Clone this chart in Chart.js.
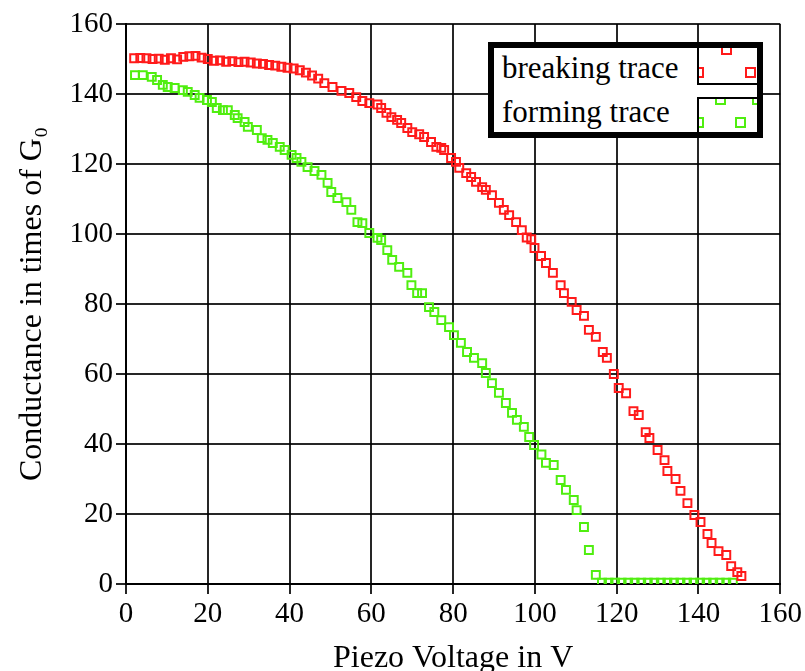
<!DOCTYPE html>
<html>
<head>
<meta charset="utf-8">
<script src="https://cdn.jsdelivr.net/npm/chart.js@4"></script>
<style>
    body { margin: 0; background: #fff; }
    #wrap { position: relative; width: 805px; height: 671px; }
    #legend {
        position: absolute; left: 488px; top: 42px; width: 275px; height: 96px;
        box-sizing: border-box; border: 6px solid #000; background: #fff;
        font-family: 'Liberation Serif', 'Times New Roman', serif; font-size: 31px; line-height: 31px; color: #000;
    }
    .lab { position: absolute; left: 8px; white-space: nowrap; }
    .sample { position: absolute; left: 203px; right: 0; overflow: hidden; box-sizing: border-box; }
    .mk { position: absolute; width: 11px; height: 11px; box-sizing: border-box; border: 2px solid; }
</style>
</head>
<body>
<div id="wrap">
    <canvas id="chart" width="805" height="671"></canvas>
    <div id="legend">
        <span class="lab" style="top:4px">breaking trace</span>
        <span class="lab" style="top:48px">forming trace</span>
        <div class="sample" style="top:0; height:37px; border-left:2px solid #000; border-bottom:2px solid #000;">
            <div class="mk" style="left:22px; top:-4px; border-color:#ff1a1a"></div>
            <div class="mk" style="left:-6px; top:19px; border-color:#ff1a1a"></div>
            <div class="mk" style="left:46px; top:19px; border-color:#ff1a1a"></div>
        </div>
        <div class="sample" style="top:49px; bottom:0; border-left:2px solid #000; border-top:2px solid #000;">
            <div class="mk" style="left:16px; top:-5px; border-color:#50ee10"></div>
            <div class="mk" style="left:53px; top:-5px; border-color:#50ee10"></div>
            <div class="mk" style="left:-6px; top:18px; border-color:#50ee10"></div>
            <div class="mk" style="left:36px; top:18px; border-color:#50ee10"></div>
        </div>
    </div>
</div>
<script>
// Breaking trace (red)
const breakingV = [2, 3.5, 5, 6.5, 8, 9.5, 11, 12.5, 14, 15.5, 17, 18.5, 20, 21.5, 23, 24.5, 26, 27.5, 29, 30.5,
    32, 33.5, 35, 36.5, 38, 39.5, 41, 42.5, 44, 45.5, 47, 48.5, 50.5, 52.7, 54.6, 56.3, 57.8, 59.5, 61.5, 62.4,
    63.7, 64.9, 66.3, 67.3, 68.8, 70.0, 71.7, 72.9, 74.6, 75.9, 77.1, 77.8, 79.5, 80.7, 81.5, 83.2, 84.4, 85.6,
    87.1, 88.0, 89.5, 91.2, 92.4, 93.7, 95.4, 96.8, 98.0, 99.1, 99.9, 101.5, 102.7, 104.4, 106.3, 107.1, 109.0,
    110.2, 112.0, 113.2, 114.9, 116.6, 117.6, 119.3, 120.5, 122.3, 124.1, 125.4, 127.1, 128.0, 130.0, 131.7,
    132.4, 134.4, 135.6, 137.3, 139.0, 140.5, 142.2, 143.2, 144.9, 146.8, 148.0, 149.5, 150.5];
const breakingG = [150.2, 150.3, 150.2, 150.0, 150.1, 149.8, 150.2, 149.9, 150.6, 150.8, 150.9, 150.4, 150.0, 149.5, 149.6, 149.2, 149.4, 149.1, 149.2, 149.0,
    148.7, 148.6, 148.3, 148.1, 147.8, 147.5, 147.3, 146.8, 146.1, 145.3, 144.4, 143.1, 142.0, 140.9, 140.3, 139.1, 138.0, 137.4, 137.0, 136.0,
    134.6, 133.4, 132.6, 131.7, 130.3, 129.1, 128.5, 127.7, 126.3, 124.9, 124.6, 124.0, 121.7, 120.6, 118.9, 117.4, 116.3, 114.9,
    113.4, 112.6, 111.1, 108.9, 106.9, 105.4, 103.4, 101.1, 99.0, 98.5, 96.0, 93.7, 91.7, 88.9, 85.4, 83.1, 80.6,
    78.3, 76.6, 72.6, 70.6, 66.3, 64.6, 60.0, 56.0, 54.5, 49.4, 48.3, 43.4, 41.7, 38.3, 35.4,
    32.3, 30.0, 26.6, 23.1, 19.7, 17.7, 14.3, 11.7, 9.4, 8.3, 5.1, 3.4, 2.3];

// Forming trace (green)
const formingV = [2.2, 4.1, 6.3, 7.6, 9.0, 10.2, 11.9, 13.9, 15.1, 16.8, 18.0, 19.8, 21.0, 22.2, 23.7, 24.9, 26.6, 27.3, 29.0, 29.8,
    32.0, 33.2, 34.6, 35.9, 37.6, 38.8, 40.5, 41.7, 42.9, 44.4, 46.1, 47.8, 49.3, 50.2, 51.7, 53.9, 55.1, 56.6, 57.8, 59.5,
    61.5, 62.4, 63.9, 65.1, 66.8, 68.8, 69.8, 71.2, 72.4, 74.1, 75.4, 77.1, 79.0, 80.2, 81.9, 83.4, 85.1, 87.1, 88.0, 89.5,
    91.2, 92.9, 94.4, 95.6, 97.3, 98.6, 99.8, 101.6, 102.7, 104.6, 106.3, 107.6, 109.5, 110.2, 112.0, 113.2, 114.9,
    116.4, 118.0, 119.6, 121.2, 122.8, 124.4, 126.0, 127.6, 129.2, 130.8, 132.4, 134.0, 135.6, 137.2, 138.8, 140.4,
    142.0, 143.6, 145.2, 146.8, 148.4];
const formingG = [145.4, 145.4, 144.9, 144.0, 142.6, 142.0, 141.7, 141.1, 140.6, 139.7, 138.9, 138.3, 137.7, 136.0, 135.4, 135.4, 134.0, 133.1, 132.0, 130.6,
    129.7, 127.4, 126.9, 126.0, 124.9, 124.0, 122.6, 121.7, 120.6, 119.1, 118.0, 116.9, 114.6, 112.0, 110.3, 109.1, 106.9, 103.4, 103.1, 100.3,
    98.9, 98.3, 95.4, 92.6, 90.6, 88.9, 85.4, 83.1, 83.1, 79.1, 77.7, 75.4, 73.4, 71.1, 68.9, 66.3, 64.6, 63.1, 60.3, 57.4,
    54.6, 51.7, 48.9, 46.9, 44.9, 42.0, 39.7, 37.0, 34.6, 34.0, 29.7, 26.9, 24.0, 21.1, 16.3, 9.7, 2.6,
    0.4, 0.4, 0.4, 0.4, 0.4, 0.4, 0.4, 0.4, 0.4, 0.4, 0.4, 0.4, 0.4, 0.4, 0.4, 0.4,
    0.4, 0.4, 0.4, 0.4, 0.4];

const axisMin = 0, axisMax = 160, axisStep = 20;

const serif = "'Liberation Serif', 'Times New Roman', serif";
const gridColor = 'rgba(0, 0, 0, 0.85)';

function toPoints(xs, ys) {
    return xs.map((x, i) => ({ x: x, y: ys[i] }));
}

new Chart(document.getElementById('chart'), {
    type: 'scatter',
    data: {
        datasets: [
            {
                label: 'breaking trace',
                data: toPoints(breakingV, breakingG),
                pointStyle: 'rect',
                pointRadius: 5.6,
                borderWidth: 2,
                borderColor: '#ff1a1a',
                backgroundColor: 'rgba(0,0,0,0)'
            },
            {
                label: 'forming trace',
                data: toPoints(formingV, formingG),
                pointStyle: 'rect',
                pointRadius: 5.6,
                borderWidth: 2,
                borderColor: '#50ee10',
                backgroundColor: 'rgba(0,0,0,0)'
            }
        ]
    },
    options: {
        responsive: false,
        animation: false,
        layout: { padding: { top: 24, right: 23, left: 0, bottom: 0 } },
        plugins: {
            legend: { display: false },
            tooltip: { enabled: false }
        },
        scales: {
            x: {
                type: 'linear',
                min: axisMin,
                max: axisMax,
                afterFit: scale => { scale.height = 87; },
                ticks: { stepSize: axisStep, color: '#000', padding: 3, font: { family: serif, size: 29 } },
                grid: { color: gridColor, lineWidth: 2, tickLength: 10 },
                border: { color: '#000', width: 2 },
                title: {
                    display: true,
                    text: 'Piezo Voltage in V',
                    color: '#000',
                    padding: { top: 0, bottom: -7 },
                    font: { family: serif, size: 32 }
                }
            },
            y: {
                min: axisMin,
                max: axisMax,
                afterFit: scale => { scale.width = 126; },
                ticks: { stepSize: axisStep, color: '#000', padding: 3, font: { family: serif, size: 29 } },
                grid: { color: gridColor, lineWidth: 2, tickLength: 10 },
                border: { color: '#000', width: 2 },
                title: {
                    display: true,
                    text: 'Conductance in times of G₀',
                    color: '#000',
                    padding: { top: 13, bottom: 0 },
                    font: { family: serif, size: 32 }
                }
            }
        }
    }
});
</script>
</body>
</html>
